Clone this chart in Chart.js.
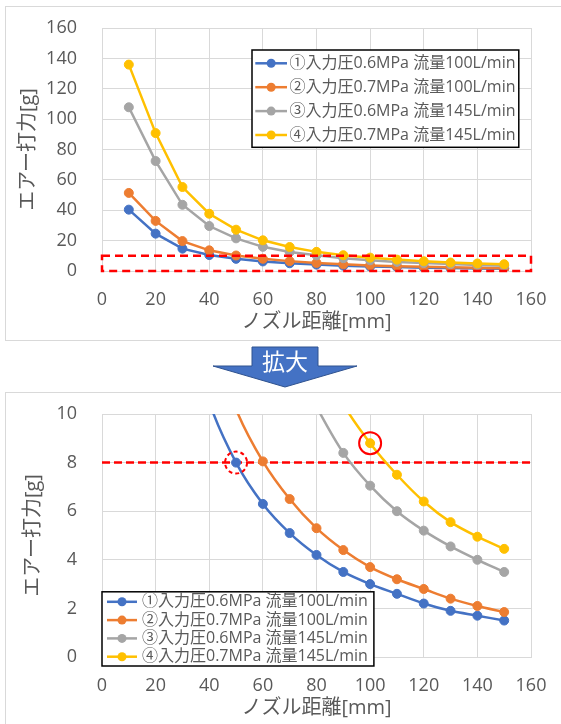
<!DOCTYPE html>
<html lang="ja">
<head>
<meta charset="utf-8">
<title>ノズル距離とエアー打力</title>
<script src="https://cdn.jsdelivr.net/npm/chart.js@4.4.1/dist/chart.umd.min.js"></script>
<style>
  html, body { margin: 0; padding: 0; background: #fff; }
  body { width: 561px; height: 724px; position: relative; overflow: hidden; }
  .frame { position: absolute; box-sizing: border-box; border: 1px solid #d9d9d9; }
  .holder { position: absolute; left: 0; }
  canvas { display: block; }
  #arrow { position: absolute; left: 0; top: 0; pointer-events: none; }
</style>
</head>
<body>
<div class="frame" style="left:5px; top:6px; width:560px; height:335px;"></div>
<div class="frame" style="left:5px; top:392px; width:560px; height:340px;"></div>
<div class="holder" style="top:0;"><canvas id="overview" width="561" height="345"></canvas></div>
<div class="holder" style="top:385px;"><canvas id="closeup" width="561" height="339"></canvas></div>
<svg id="arrow" width="561" height="724" xmlns="http://www.w3.org/2000/svg">
  <polygon points="252,347 318,347 318,366 357,366 285,387 213,366 252,366"
           fill="#4472C4" stroke="#2F528F" stroke-width="1"/>
  <text x="285" y="364" fill="#fff" font-family="Noto Sans CJK JP" font-size="23"
        text-anchor="middle" dominant-baseline="middle">拡大</text>
</svg>
<script>
// Nozzle distance [mm]
const distances = [10, 20, 30, 40, 50, 60, 70, 80, 90, 100, 110, 120, 130, 140, 150];

// Air impact force [g] per condition
const force06_100 = [40.4, 24.6, 14.7, 10.5, 8.0, 6.3, 5.1, 4.2, 3.5, 3.0, 2.6, 2.2, 1.9, 1.7, 1.5];
const force07_100 = [51.4, 33.0, 19.7, 13.6, 10.2, 8.05, 6.5, 5.3, 4.4, 3.7, 3.2, 2.8, 2.4, 2.1, 1.85];
const force06_145 = [107.8, 72.4, 43.6, 29.6, 21.5, 15.9, 12.5, 10.3, 8.4, 7.05, 6.0, 5.2, 4.55, 4.0, 3.5];
const force07_145 = [135.9, 90.8, 55.3, 37.7, 27.2, 20.2, 15.8, 12.6, 10.4, 8.8, 7.5, 6.4, 5.55, 4.95, 4.45];

const seriesLabels = [
  '①入力圧0.6MPa 流量100L/min',
  '②入力圧0.7MPa 流量100L/min',
  '③入力圧0.6MPa 流量145L/min',
  '④入力圧0.7MPa 流量145L/min'
];
const seriesValues = [force06_100, force07_100, force06_145, force07_145];
const seriesColors = ['#4472C4', '#ED7D31', '#A5A5A5', '#FFC000'];

// Axis ranges and tick steps
const overviewY = { min: 0, max: 160, step: 20 };
const closeupY = { min: 0, max: 10, step: 2 };
const distanceAxis = { min: 0, max: 160, step: 20 };

// Region of the overview that the close-up enlarges
const zoomRegion = { xMin: 0, xMax: 160, yMin: 0, yMax: 10 };
// Reference force level and marked points in the close-up
const referenceForce = 8;
const markedPoints = [
  { series: 0, distance: 50, dashed: true },
  { series: 3, distance: 100, dashed: false }
];

const FONT = '"Open Sans", "Noto Sans CJK JP", sans-serif';
const TEXT = '#595959';
const GRID = '#d9d9d9';
Chart.defaults.font.family = FONT;
Chart.defaults.color = TEXT;

function makeDatasets(tension) {
  return seriesLabels.map((label, i) => ({
    label,
    data: distances.map((d, k) => ({ x: d, y: seriesValues[i][k] })),
    borderColor: seriesColors[i],
    backgroundColor: seriesColors[i],
    borderWidth: 2.5,
    pointRadius: 4.5,
    pointBorderWidth: 1,
    pointHoverRadius: 4.5,
    tension,
    order: seriesLabels.length - 1 - i
  }));
}

// Boxed legend drawn inside the plot
const boxLegend = {
  id: 'boxLegend',
  afterDatasetsDraw(chart, args, o) {
    const { ctx, chartArea: ca } = chart;
    const sets = chart.data.datasets;
    ctx.save();
    ctx.font = `${o.fontSize}px ${FONT}`;
    const textW = Math.max(...sets.map(d => ctx.measureText(d.label).width));
    const w = o.textX + textW + o.padRight;
    const h = o.padTop + (sets.length - 1) * o.rowH + o.padBottom;
    const x0 = ca.left + o.dx;
    const y0 = o.anchor === 'top' ? ca.top + o.dy : ca.bottom + o.dy - h;
    ctx.fillStyle = '#fff';
    ctx.fillRect(x0, y0, w, h);
    ctx.strokeStyle = '#000';
    ctx.lineWidth = 1.5;
    ctx.strokeRect(x0, y0, w, h);
    sets.forEach((ds, i) => {
      const cy = y0 + o.padTop + i * o.rowH;
      ctx.strokeStyle = ds.borderColor;
      ctx.lineWidth = 2.5;
      ctx.beginPath();
      ctx.moveTo(x0 + o.lineX0, cy);
      ctx.lineTo(x0 + o.lineX1, cy);
      ctx.stroke();
      ctx.fillStyle = ds.backgroundColor;
      ctx.beginPath();
      ctx.arc(x0 + (o.lineX0 + o.lineX1) / 2, cy, 4.5, 0, Math.PI * 2);
      ctx.fill();
      ctx.fillStyle = TEXT;
      ctx.textAlign = 'left';
      ctx.textBaseline = 'middle';
      ctx.fillText(ds.label, x0 + o.textX, cy);
    });
    ctx.restore();
  }
};

// Red dashed frame around the enlarged region
const regionFrame = {
  id: 'regionFrame',
  afterDatasetsDraw(chart, args, o) {
    if (!o.region) return;
    const { ctx, scales: { x, y } } = chart;
    const r = o.region;
    const l = x.getPixelForValue(r.xMin), rr = x.getPixelForValue(r.xMax);
    const t = y.getPixelForValue(r.yMax), b = y.getPixelForValue(r.yMin);
    ctx.save();
    ctx.strokeStyle = '#FF0000';
    ctx.lineWidth = 2.5;
    ctx.setLineDash([8, 5]);
    ctx.strokeRect(l, t, rr - l, b - t);
    ctx.restore();
  }
};

// Reference line and circled points
const referenceMarks = {
  id: 'referenceMarks',
  beforeDatasetsDraw(chart, args, o) {
    if (o.level === undefined) return;
    const { ctx, chartArea: ca, scales: { y } } = chart;
    const py = y.getPixelForValue(o.level);
    ctx.save();
    ctx.strokeStyle = '#FF0000';
    ctx.lineWidth = 2.5;
    ctx.setLineDash([8, 4]);
    ctx.beginPath();
    ctx.moveTo(ca.left, py);
    ctx.lineTo(ca.right, py);
    ctx.stroke();
    ctx.restore();
  },
  afterDatasetsDraw(chart, args, o) {
    if (!o.points) return;
    const { ctx, scales: { x, y } } = chart;
    ctx.save();
    ctx.strokeStyle = '#FF0000';
    ctx.lineWidth = 2;
    o.points.forEach(p => {
      const k = distances.indexOf(p.distance);
      const px = x.getPixelForValue(p.distance);
      const py = y.getPixelForValue(seriesValues[p.series][k]);
      ctx.setLineDash(p.dashed ? [4, 3] : []);
      ctx.beginPath();
      ctx.arc(px, py, 11, 0, Math.PI * 2);
      ctx.stroke();
    });
    ctx.restore();
  }
};

function makeChart(id, cfg) {
  return new Chart(document.getElementById(id), {
    type: 'line',
    data: { datasets: makeDatasets(cfg.tension) },
    plugins: [boxLegend, regionFrame, referenceMarks],
    options: {
      responsive: false,
      animation: false,
      events: [],
      layout: { padding: { left: 0, top: cfg.top, right: 30, bottom: 0 } },
      plugins: {
        legend: { display: false },
        tooltip: { enabled: false },
        boxLegend: cfg.legend,
        regionFrame: { region: cfg.region },
        referenceMarks: cfg.marks
      },
      scales: {
        x: {
          type: 'linear',
          min: distanceAxis.min,
          max: distanceAxis.max,
          afterFit: a => { a.height = cfg.xAxisH; a.paddingLeft = 0; a.paddingRight = 0; },
          ticks: { stepSize: distanceAxis.step, padding: 18, font: { size: 18 }, color: TEXT },
          grid: { color: GRID, drawTicks: false },
          border: { color: GRID },
          title: { display: true, text: 'ノズル距離[mm]', font: { size: 20 }, color: TEXT,
                   padding: { top: 0, bottom: cfg.xTitlePad } }
        },
        y: {
          min: cfg.yRange.min,
          max: cfg.yRange.max,
          afterFit: a => { a.width = 102; a.paddingTop = 0; a.paddingBottom = 0; },
          ticks: { stepSize: cfg.yRange.step, padding: 25, font: { size: 18 }, color: TEXT },
          grid: { color: GRID, drawTicks: false },
          border: { color: GRID },
          title: { display: true, text: 'エアー打力[g]', font: { size: 20 }, color: TEXT,
                   padding: { top: cfg.yTitlePad, bottom: 0 } }
        }
      }
    }
  });
}

makeChart('overview', {
  tension: 0,
  top: 28,
  xAxisH: 74,
  xTitlePad: 11,
  yTitlePad: 16,
  yRange: overviewY,
  region: zoomRegion,
  marks: {},
  legend: { anchor: 'top', dx: 150, dy: 22, fontSize: 16, padTop: 13.3, rowH: 23.9, padBottom: 12.3,
            lineX0: 3.3, lineX1: 35, textX: 37.6, padRight: 3.3 }
});

makeChart('closeup', {
  tension: 0.3,
  top: 29,
  xAxisH: 67,
  xTitlePad: 4,
  yTitlePad: 21,
  yRange: closeupY,
  region: null,
  marks: { level: referenceForce, points: markedPoints },
  legend: { anchor: 'bottom', dx: 0, dy: 9, fontSize: 16, padTop: 10, rowH: 18.3, padBottom: 9.3,
            lineX0: 5, lineX1: 35, textX: 40, padRight: 6 }
});
</script>
</body>
</html>
